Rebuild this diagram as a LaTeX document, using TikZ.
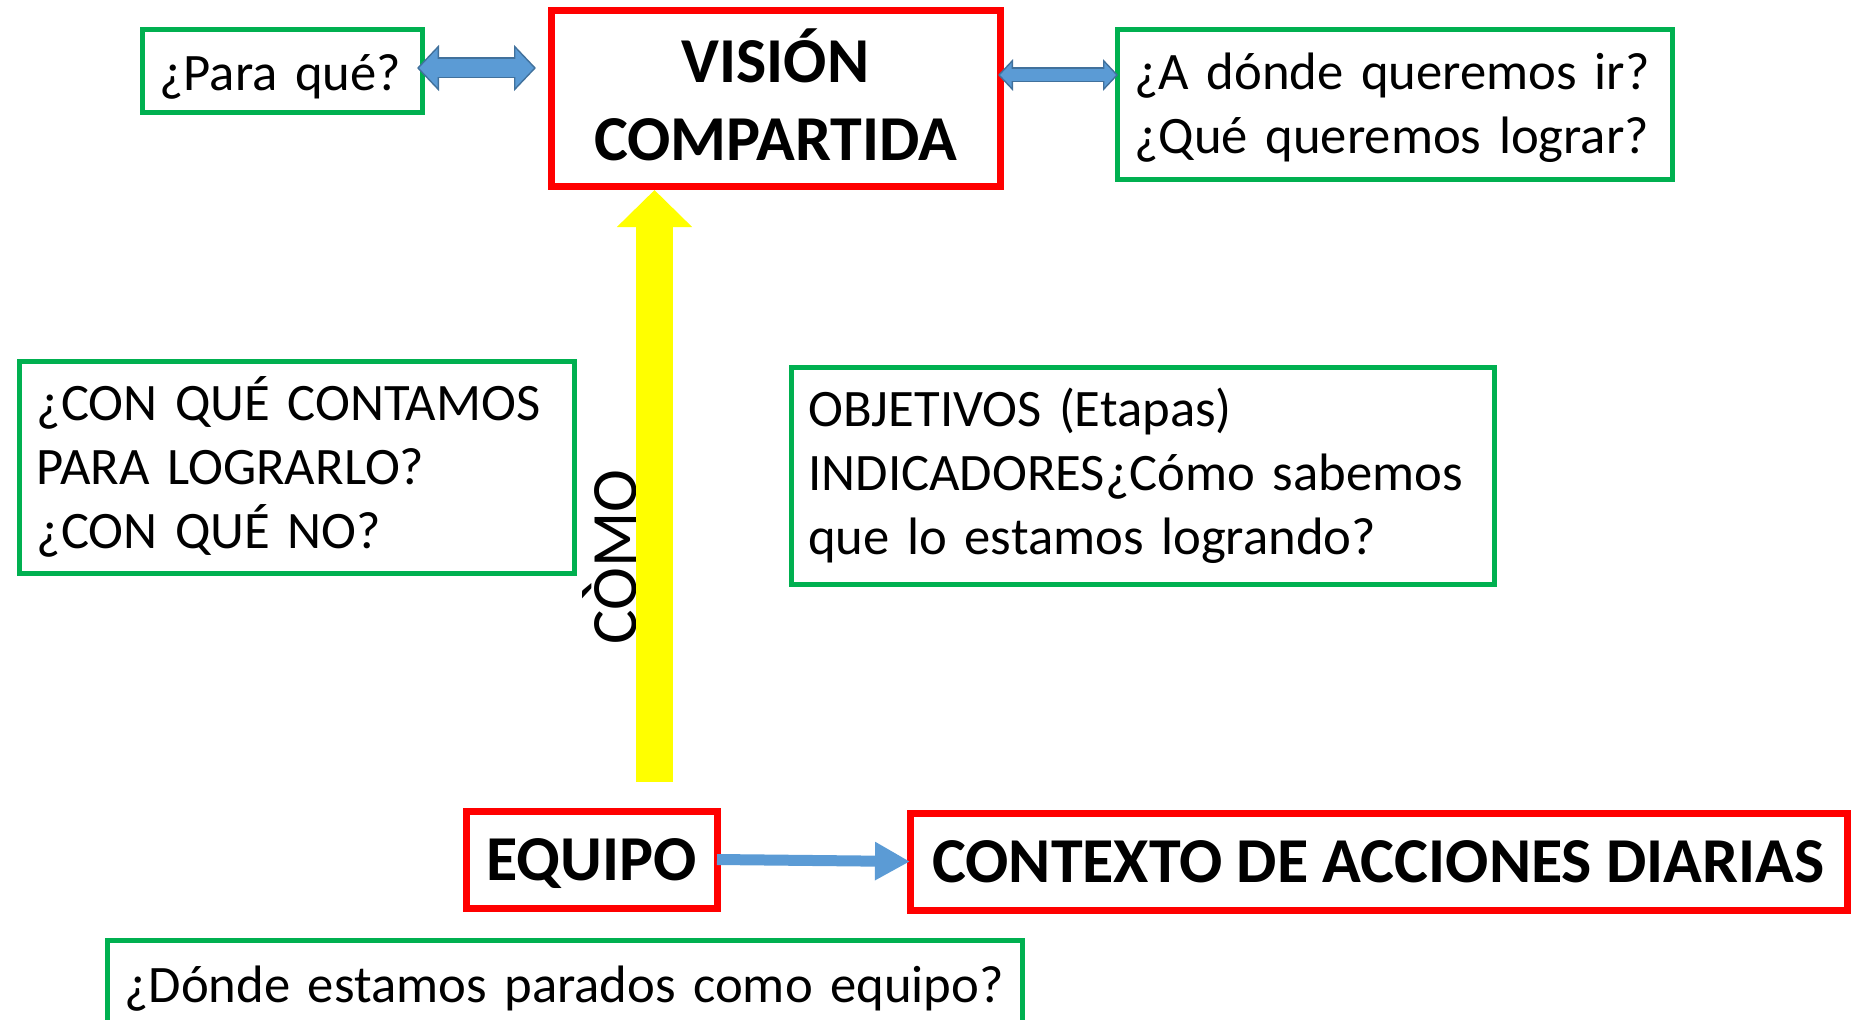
\documentclass[tikz,border=0pt]{standalone}
\usepackage{fontspec}
\setmainfont{Carlito}
\usetikzlibrary{calc, positioning, arrows.meta}
\definecolor{boxGreen}{HTML}{00B050}
\definecolor{boxRed}{HTML}{FF0000}
\definecolor{arrowFill}{HTML}{5B9BD5}
\definecolor{arrowEdge}{HTML}{41719C}
\definecolor{arrowYellow}{HTML}{FFFF00}
\tikzstyle{greenBox} = [draw=boxGreen, line width=3.75pt, rectangle, outer sep=0pt,
   inner xsep=13pt, inner ysep=2pt, align=left, font=\fontsize{39.5}{48}\selectfont]
\tikzstyle{redBox} = [draw=boxRed, line width=5.25pt, rectangle, outer sep=0pt,
   inner sep=2pt, align=center, font=\bfseries\fontsize{48}{58}\selectfont]
\tikzstyle{bigOuter} = [arrowEdge, line width=15.75pt,
   {Triangle[length=16.5pt,width=33.75pt]}-{Triangle[length=16.5pt,width=33.75pt]}]
\tikzstyle{bigInner} = [arrowFill, line width=13.5pt, shorten <=1.6pt, shorten >=1.6pt,
   {Triangle[length=13.8pt,width=28.2pt]}-{Triangle[length=13.8pt,width=28.2pt]}]
\tikzstyle{smallOuter} = [arrowEdge, line width=11.25pt,
   {Triangle[length=11.25pt,width=23.25pt]}-{Triangle[length=11.25pt,width=23.25pt]}]
\tikzstyle{smallInner} = [arrowFill, line width=9pt, shorten <=1.6pt, shorten >=1.6pt,
   {Triangle[length=8.55pt,width=17.7pt]}-{Triangle[length=8.55pt,width=17.7pt]}]
\tikzstyle{yellowArrow} = [arrowYellow, line width=27.75pt, -{Triangle[length=27.75pt,width=54.75pt]}]
\tikzstyle{blueArrow} = [arrowFill, line width=8.25pt, -{Triangle[length=26.25pt,width=27pt]}]

\begin{document}
\begin{tikzpicture}[x=0.75pt, y=-0.75pt]
	  \useasboundingbox (0,0) rectangle (1851,1020);
	  \node[redBox, minimum width=336.75pt, minimum height=131.25pt, text height=92.7pt, text depth=0pt] (vision) at (775.5,98.5) {VISIÓN\\COMPARTIDA};
	  \node[greenBox, text width=184pt, minimum height=62.25pt, text height=35.5pt, text depth=7.5pt] (para) at (282,71.5) {¿Para qué?};
	  \node[greenBox, text width=390.25pt, minimum height=111.75pt, text height=34pt, text depth=56pt] (adonde) at (1394.5,104.5) {¿A dónde queremos ir?\\¿Qué queremos lograr?};
	  \node[greenBox, text width=389.9pt, minimum height=159pt] (conque) at (296.75,467) {¿CON QUÉ CONTAMOS\\PARA LOGRARLO?\\¿CON QUÉ NO?};
	  \node[greenBox, text width=501.25pt, minimum height=162.75pt] (objetivos) at (1142.5,475.5) {OBJETIVOS (Etapas)\\INDICADORES¿Cómo sabemos\\que lo estamos logrando?};
	  \node[redBox, minimum width=188.25pt, minimum height=72.75pt, text height=31pt, text depth=-5pt] (equipo) at (591.5,859.5) {EQUIPO};
	  \node[redBox, minimum width=702.75pt, minimum height=72.75pt, text height=31pt, text depth=-6pt] (contexto) at (1378.5,861.5) {CONTEXTO DE ACCIONES DIARIAS};
	  \node[greenBox, text width=660.25pt, minimum height=63pt, text height=38pt, text depth=7.5pt] (donde) at (564.5,982) {¿Dónde estamos parados como equipo?};
	  \node[rotate=90, inner sep=0pt, font=\fontsize{48.5}{56}\selectfont] (como) at (610,557) {CÒMO};

	  % arrow ends
	  \coordinate (pqEnd) at ($(para.east)+(-5,-3.5)$);
	  \coordinate (viLeft) at ($(vision.west)+(-15,-30.5)$);
	  \coordinate (viRight) at ($(vision.east)+(-2,-23.5)$);
	  \coordinate (adEnd) at ($(adonde.west)+(1,-29.5)$);
	  \coordinate (comoTop) at ($(vision.south)+(-121,4)$);
	  \coordinate (comoBot) at ($(equipo.north)+(63,-29)$);

	  % 1st pass: draw arrows
	  \draw[bigOuter] (pqEnd) -- (viLeft);
	  \draw[smallOuter] (viRight) -- (adEnd);
	  \draw[yellowArrow] (comoBot) -- (comoTop);
	  \draw[blueArrow] (equipo.east) -- (contexto.west);

	  % 2nd pass: fill the outlined arrows
	  \draw[bigInner] (pqEnd) -- (viLeft);
	  \draw[smallInner] (viRight) -- (adEnd);
	\end{tikzpicture}
\end{document}
